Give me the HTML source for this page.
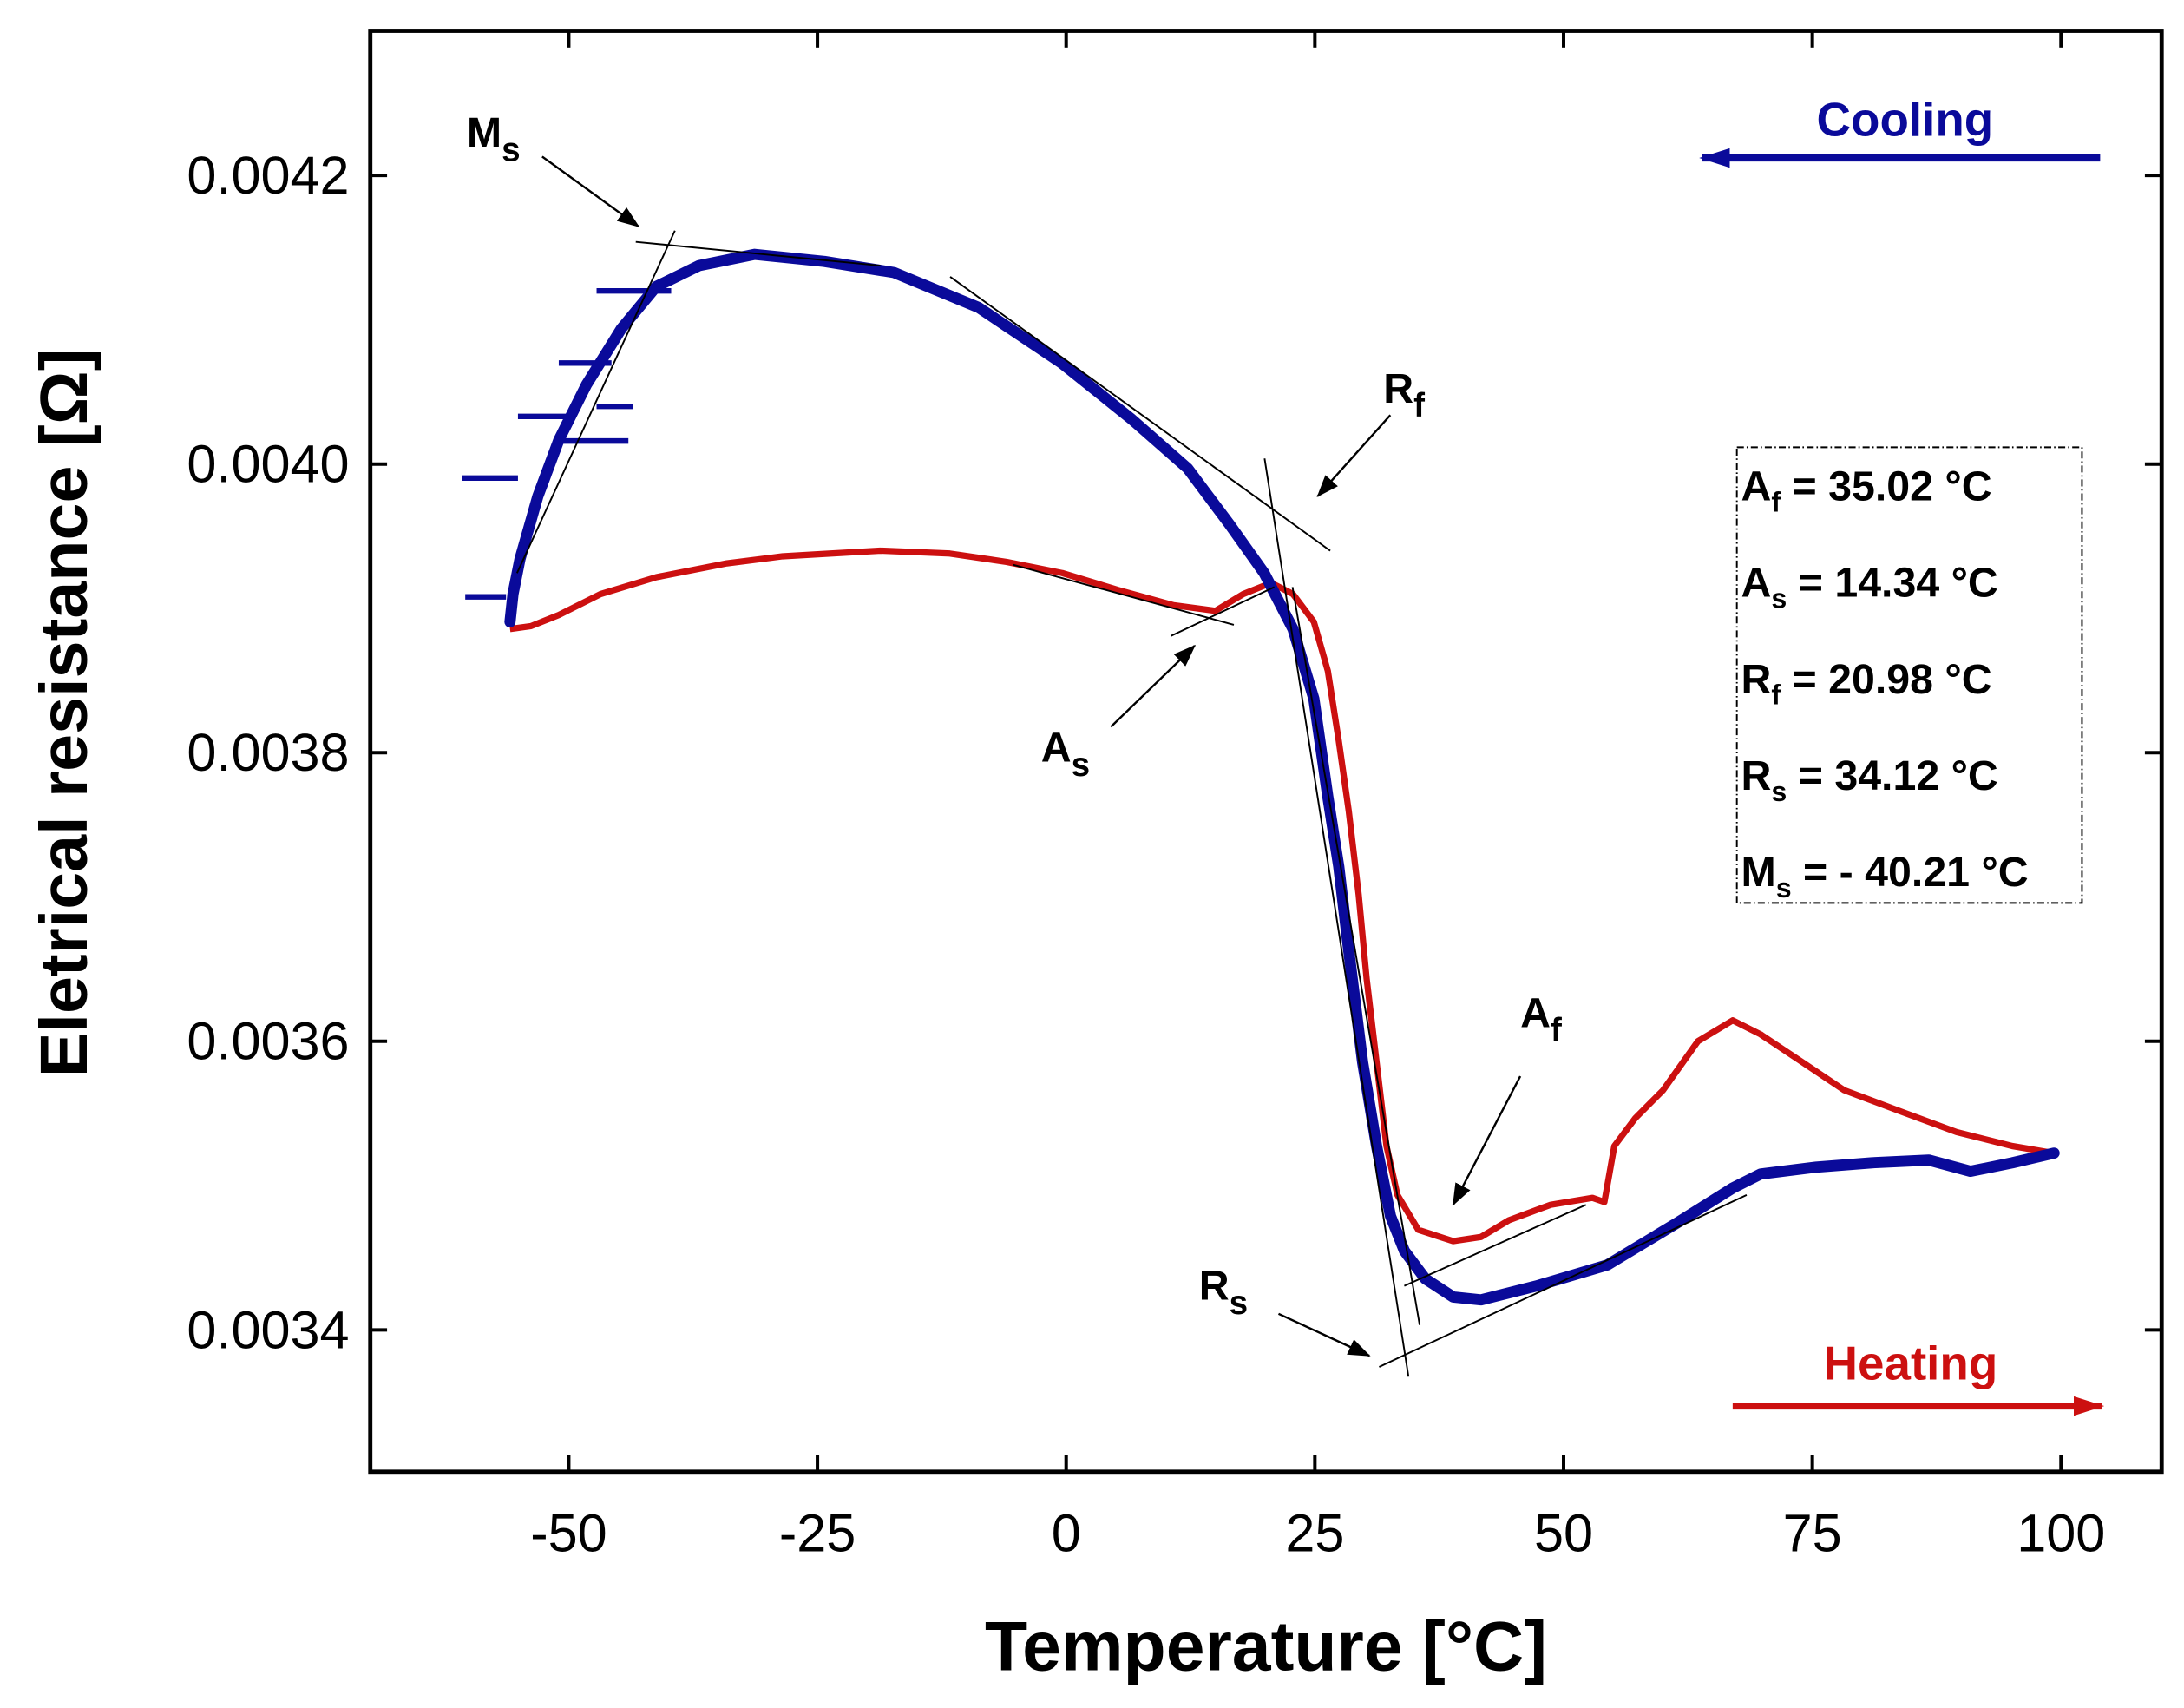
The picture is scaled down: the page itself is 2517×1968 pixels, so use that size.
<!DOCTYPE html>
<html><head><meta charset="utf-8"><style>
html,body{margin:0;padding:0;background:#fff}
svg{display:block}
text{font-family:"Liberation Sans",sans-serif}
</style></head><body>
<svg id="chart" width="2517" height="1968" viewBox="0 0 1563 1222" xmlns="http://www.w3.org/2000/svg">
<g id="marks"></g>
<rect x="265" y="22" width="1282" height="1031" fill="none" stroke="#000" stroke-width="3"/>
<g id="axes"></g>
<text x="906" y="1195" font-size="50" font-weight="bold" text-anchor="middle">Temperature [°C]</text>
<text transform="translate(62,510) rotate(-90)" font-size="48" font-weight="bold" text-anchor="middle">Eletrical resistance [Ω]</text>
<g stroke="#000" stroke-width="1.2" fill="none">
<line x1="455" y1="173" x2="630" y2="190"/>
<line x1="370" y1="410" x2="483" y2="165"/>
<line x1="680" y1="198" x2="952" y2="394"/>
<line x1="905" y1="328" x2="1008" y2="985"/>
<line x1="925" y1="420" x2="1016" y2="948"/>
<line x1="725" y1="404" x2="883" y2="447"/>
<line x1="838" y1="455" x2="912" y2="420"/>
<line x1="987" y1="978" x2="1250" y2="855"/>
<line x1="1005" y1="920" x2="1135" y2="862"/>
</g>
<defs><marker id="ah" markerWidth="16" markerHeight="12" refX="15" refY="6" orient="auto" markerUnits="userSpaceOnUse"><path d="M0,0 L16,6 L0,12 z" fill="#000"/></marker>
<marker id="ahb" markerWidth="22" markerHeight="14" refX="20" refY="7" orient="auto" markerUnits="userSpaceOnUse"><path d="M0,0 L22,7 L0,14 z" fill="#0a0a9a"/></marker>
<marker id="ahr" markerWidth="22" markerHeight="14" refX="20" refY="7" orient="auto" markerUnits="userSpaceOnUse"><path d="M0,0 L22,7 L0,14 z" fill="#cc1010"/></marker></defs>
<g stroke="#000" stroke-width="1.5">
<line x1="388" y1="112" x2="457" y2="162" marker-end="url(#ah)"/>
<line x1="995" y1="297" x2="943" y2="355" marker-end="url(#ah)"/>
<line x1="795" y1="520" x2="855" y2="462" marker-end="url(#ah)"/>
<line x1="1088" y1="770" x2="1040" y2="862" marker-end="url(#ah)"/>
<line x1="915" y1="940" x2="980" y2="970" marker-end="url(#ah)"/>
</g>
<g font-size="30" font-weight="bold" fill="#000">
<text x="334" y="105">M<tspan font-size="24" dy="10">s</tspan></text>
<text x="990" y="288">R<tspan font-size="24" dy="10">f</tspan></text>
<text x="745" y="545">A<tspan font-size="24" dy="10">s</tspan></text>
<text x="1088" y="735">A<tspan font-size="24" dy="10">f</tspan></text>
<text x="858" y="930">R<tspan font-size="24" dy="10">s</tspan></text>
</g>
<text x="1300" y="97" font-size="34" font-weight="bold" fill="#0a0a9a">Cooling</text>
<line x1="1503" y1="113" x2="1218" y2="113" stroke="#0a0a9a" stroke-width="5" marker-end="url(#ahb)"/>
<text x="1305" y="987" font-size="34" font-weight="bold" fill="#cc1010">Heating</text>
<line x1="1240" y1="1006" x2="1504" y2="1006" stroke="#cc1010" stroke-width="5" marker-end="url(#ahr)"/>
<g>
<rect x="1243" y="320" width="247" height="326" fill="#fff" stroke="#000" stroke-width="1.2" stroke-dasharray="5,2,1,2"/>
<g font-size="30" font-weight="bold">
<text x="1246" y="358">A<tspan font-size="20" dy="8">f</tspan><tspan dy="-8"> = 35.02 °C</tspan></text>
<text x="1246" y="427">A<tspan font-size="20" dy="8">s</tspan><tspan dy="-8"> = 14.34 °C</tspan></text>
<text x="1246" y="496">R<tspan font-size="20" dy="8">f</tspan><tspan dy="-8"> = 20.98 °C</tspan></text>
<text x="1246" y="565">R<tspan font-size="20" dy="8">s</tspan><tspan dy="-8"> = 34.12 °C</tspan></text>
<text x="1246" y="634">M<tspan font-size="20" dy="8">s</tspan><tspan dy="-8"> = - 40.21 °C</tspan></text>
</g></g>
</svg>
<script>
const xTicks=[-50,-25,0,25,50,75,100];
const yTicks=[0.0034,0.0036,0.0038,0.0040,0.0042];
const yTickLabels=["0.0034","0.0036","0.0038","0.0040","0.0042"];
const coolT=[99.3,95.1,90.9,86.7,81.0,75.4,69.8,67.0,61.4,54.4,47.3,41.7,38.9,36.1,34.0,32.6,31.2,29.8,28.4,27.4,26.3,24.9,22.8,19.9,16.4,12.2,6.6,-0.4,-8.8,-17.3,-24.3,-31.3,-36.9,-41.2,-44.7,-48.2,-51.0,-53.1,-54.9,-55.6,-55.9];
const coolR=[0.0035225,0.0035158,0.0035099,0.0035177,0.0035158,0.0035128,0.0035080,0.0034983,0.0034741,0.0034450,0.0034305,0.0034208,0.0034228,0.0034354,0.0034547,0.0034789,0.0035274,0.0035855,0.0036630,0.0037211,0.0037695,0.0038373,0.0038857,0.0039245,0.0039584,0.0039971,0.0040310,0.0040697,0.0041085,0.0041327,0.0041404,0.0041453,0.0041375,0.0041230,0.0040939,0.0040552,0.0040165,0.0039777,0.0039341,0.0039099,0.0038906];
const spikeT0=[-60.7,-60.4,-55.1,-51.0,-47.2,-47.2,-50.6];
const spikeT1=[-55.1,-56.3,-50.0,-45.7,-43.5,-39.7,-44.0];
const spikeR=[0.0039903,0.0039080,0.0040330,0.0040700,0.0040400,0.0041200,0.0040160];
const heatT=[-55.9,-53.8,-51.0,-46.8,-41.2,-34.1,-28.5,-18.7,-11.7,-6.0,-0.4,5.2,10.8,15.0,17.8,20.6,22.8,24.9,26.3,27.4,28.4,29.4,30.2,31.2,32.2,33.3,35.4,38.9,41.7,44.5,48.7,52.9,54.1,55.1,57.2,60.0,63.5,67.0,69.8,74.0,78.2,83.8,89.5,95.1,99.3];
const heatR=[0.0038857,0.0038877,0.0038954,0.0039099,0.0039216,0.0039312,0.0039361,0.0039400,0.0039380,0.0039322,0.0039245,0.0039128,0.0039022,0.0038983,0.0039099,0.0039177,0.0039099,0.0038906,0.0038567,0.0038082,0.0037598,0.0037017,0.0036436,0.0035855,0.0035274,0.0034935,0.0034693,0.0034615,0.0034644,0.0034760,0.0034867,0.0034915,0.0034886,0.0035274,0.0035467,0.0035661,0.0036000,0.0036145,0.0036048,0.0035855,0.0035661,0.0035516,0.0035371,0.0035274,0.0035225];
const X=t=>763+t*7.12;
const Y=v=>332-(v-0.004)/0.0002*206.5;
const NS="http://www.w3.org/2000/svg";
const marks=document.getElementById('marks'), axes=document.getElementById('axes');
function mk(tag,attrs,parent){const e=document.createElementNS(NS,tag);for(const k in attrs)e.setAttribute(k,attrs[k]);parent.appendChild(e);return e;}
xTicks.forEach(t=>{
  const g=mk('g',{},axes);
  
  
  mk('line',{x1:X(t),x2:X(t),y1:1053,y2:1041,stroke:'#000','stroke-width':2.5},g);
  mk('line',{x1:X(t),x2:X(t),y1:22,y2:34,stroke:'#000','stroke-width':2.5},g);
  const tx=mk('text',{x:X(t),y:1110,'font-size':38,'text-anchor':'middle'},g);tx.textContent=t;
});
yTicks.forEach((v,i)=>{
  const g=mk('g',{},axes);
  
  
  mk('line',{x1:265,x2:277,y1:Y(v),y2:Y(v),stroke:'#000','stroke-width':2.5},g);
  mk('line',{x1:1547,x2:1535,y1:Y(v),y2:Y(v),stroke:'#000','stroke-width':2.5},g);
  const tx=mk('text',{x:250,y:Y(v)+13,'font-size':38,'text-anchor':'end'},g);tx.textContent=yTickLabels[i];
});
const hp=mk('polyline',{points:heatT.map((t,i)=>X(t)+','+Y(heatR[i])).join(' '),fill:'none',stroke:'#cc1010','stroke-width':4.5,'stroke-linejoin':'round'},marks);


spikeR.forEach((v,i)=>{
  const l=mk('line',{x1:X(spikeT0[i]),x2:X(spikeT1[i]),y1:Y(v),y2:Y(v),stroke:'#0a0a9a','stroke-width':4},marks);
  
  
});
const cp=mk('polyline',{points:coolT.map((t,i)=>X(t)+','+Y(coolR[i])).join(' '),fill:'none',stroke:'#0a0a9a','stroke-width':8,'stroke-linejoin':'round','stroke-linecap':'round'},marks);


</script>
</body></html>
